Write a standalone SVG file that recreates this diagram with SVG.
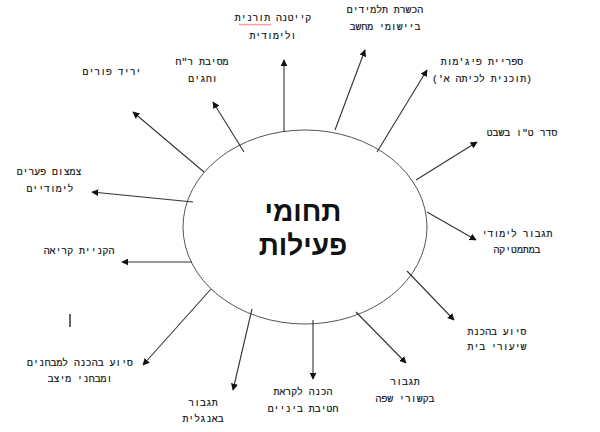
<svg xmlns="http://www.w3.org/2000/svg" width="600" height="432" viewBox="0 0 600 432">
<style>
.t{font-family:"Liberation Mono","DejaVu Sans Mono",monospace;font-size:9.8px;fill:#111;stroke:#111;stroke-width:0.15;text-anchor:middle;direction:rtl}
.c{font-family:"Liberation Sans","DejaVu Sans",sans-serif;font-size:28px;font-weight:bold;fill:#111;text-anchor:middle;direction:rtl}
.a{stroke:#333;stroke-width:1.1;fill:none;marker-end:url(#ah)}
</style>
<defs>
<marker id="ah" viewBox="0 0 10 10" refX="9" refY="5" markerWidth="7" markerHeight="7" markerUnits="userSpaceOnUse" orient="auto">
<path d="M0,0 L10,5 L0,10 z" fill="#111"/>
</marker>
</defs>
<rect width="600" height="432" fill="#fff"/>
<g id="center">
<ellipse cx="305" cy="227" rx="122" ry="97" fill="none" stroke="#555" stroke-width="1"/>
<text class="c" x="303" y="221">תחומי</text>
<text class="c" x="303" y="255">פעילות</text>
</g>
<g id="connectors">
<line class="a" x1="284" y1="132" x2="284" y2="60"/>
<line class="a" x1="244" y1="152" x2="213" y2="102"/>
<line class="a" x1="204" y1="172" x2="133" y2="112"/>
<line class="a" x1="335" y1="130" x2="365" y2="50"/>
<line class="a" x1="377" y1="152" x2="427" y2="70"/>
<line class="a" x1="416" y1="180" x2="477" y2="142"/>
<line class="a" x1="427" y1="212" x2="476" y2="240"/>
<line class="a" x1="407" y1="271" x2="454" y2="320"/>
<line class="a" x1="356" y1="312" x2="406" y2="363"/>
<line class="a" x1="313" y1="320" x2="313" y2="379"/>
<line class="a" x1="252" y1="309" x2="233" y2="390"/>
<line class="a" x1="211" y1="289" x2="143" y2="365"/>
<line class="a" x1="192" y1="262" x2="122" y2="262"/>
<line class="a" x1="193" y1="202" x2="92" y2="192"/>
</g>
<g id="n1"><text class="t" x="273" y="21">קייטנה תורנית</text><text class="t" x="273" y="39">ולימודית</text>
<path d="M239,24 l2,1.2 l2,-1.2 l2,1.2 l2,-1.2 l2,1.2 l2,-1.2 l2,1.2 l2,-1.2 l2,1.2 l2,-1.2 l2,1.2 l2,-1.2 l2,1.2 l2,-1.2 l2,1.2 l2,-1.2" fill="none" stroke="#e33" stroke-width="0.7"/></g>
<g id="n2"><text class="t" x="202" y="65">מסיבת ר"ח</text><text class="t" x="203" y="82">וחגים</text></g>
<g id="n3"><text class="t" x="112" y="75">יריד פורים</text></g>
<g id="n4"><text class="t" x="385" y="13">הכשרת תלמידים</text><text class="t" x="385" y="30">ביישומי מחשב</text></g>
<g id="n5"><text class="t" x="482" y="65">ספריית פיג'מות</text><text class="t" x="482" y="82">(תוכנית לכיתה א')</text></g>
<g id="n6"><text class="t" x="522" y="136">סדר ט"ו בשבט</text></g>
<g id="n7"><text class="t" x="517" y="237">תגבור לימודי</text><text class="t" x="517" y="253">במתמטיקה</text></g>
<g id="n8"><text class="t" x="497" y="335">סיוע בהכנת</text><text class="t" x="497" y="350">שיעורי בית</text></g>
<g id="n9"><text class="t" x="405" y="385">תגבור</text><text class="t" x="405" y="402">בקשורי שפה</text></g>
<g id="n10"><text class="t" x="303" y="395">הכנה לקראת</text><text class="t" x="303" y="412">חטיבת ביניים</text></g>
<g id="n11"><text class="t" x="203" y="406">תגבור</text><text class="t" x="203" y="422">באנגלית</text></g>
<g id="n12"><text class="t" x="80" y="366">סיוע בהכנה למבחנים</text><text class="t" x="80" y="382">ומבחני מיצב</text></g>
<g id="n13"><text class="t" x="79" y="254">הקניית קריאה</text></g>
<g id="n14"><text class="t" x="49" y="175">צמצום פערים</text><text class="t" x="50" y="192">לימודיים</text></g>
<line x1="70" y1="314" x2="70" y2="327" stroke="#333" stroke-width="1.5"/>
</svg>
